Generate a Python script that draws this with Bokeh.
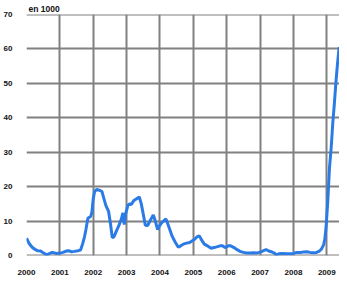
from bokeh.plotting import figure
from bokeh.models import Range1d, FixedTicker
from bokeh.embed import file_html
from bokeh.resources import INLINE

years = [2000.00, 2000.08, 2000.17, 2000.25, 2000.33, 2000.42, 2000.50, 2000.60, 2000.70, 2000.77,
         2000.90, 2001.00, 2001.09, 2001.20, 2001.25, 2001.35, 2001.43, 2001.55, 2001.62, 2001.68,
         2001.74, 2001.78, 2001.84, 2001.92, 2001.96, 2002.00, 2002.04, 2002.10, 2002.18, 2002.26,
         2002.32, 2002.38, 2002.46, 2002.52, 2002.57, 2002.62, 2002.68, 2002.76, 2002.84, 2002.89,
         2002.93, 2002.97, 2003.04, 2003.10, 2003.14, 2003.22, 2003.30, 2003.38, 2003.44, 2003.50,
         2003.56, 2003.63, 2003.72, 2003.80, 2003.86, 2003.93, 2003.98, 2004.06, 2004.18, 2004.26,
         2004.36, 2004.45, 2004.55, 2004.62, 2004.70, 2004.80, 2004.89, 2004.97, 2005.04, 2005.12,
         2005.18, 2005.26, 2005.33, 2005.42, 2005.53, 2005.62, 2005.70, 2005.80, 2005.87, 2005.95,
         2006.05, 2006.12, 2006.22, 2006.31, 2006.40, 2006.50, 2006.60, 2006.70, 2006.80, 2006.89,
         2006.97, 2007.04, 2007.12, 2007.18, 2007.26, 2007.33, 2007.43, 2007.48, 2007.56, 2007.66,
         2007.80, 2007.91, 2008.00, 2008.10, 2008.20, 2008.30, 2008.40, 2008.50, 2008.60, 2008.69,
         2008.78, 2008.84, 2008.90, 2008.94, 2008.98, 2009.03, 2009.08, 2009.13, 2009.18, 2009.22,
         2009.27, 2009.32, 2009.37]
values = [5.0, 3.5, 2.4, 1.8, 1.4, 1.3, 0.8, 0.2, 0.6, 0.9,
          0.6, 0.7, 0.9, 1.3, 1.4, 1.1, 1.2, 1.4, 1.6, 3.3,
          5.5, 7.5, 10.8, 11.3, 12.5, 16.5, 18.5, 19.2, 19.0, 18.6,
          16.5, 14.5, 12.8, 9.0, 5.2, 5.4, 6.8, 8.5, 10.5, 12.4,
          9.0, 12.0, 14.6, 15.0, 14.8, 16.0, 16.5, 17.0, 15.0, 12.0,
          8.8, 8.7, 10.4, 11.8, 10.0, 7.5, 8.5, 9.6, 10.6, 8.5,
          5.7, 4.0, 2.4, 2.8, 3.3, 3.6, 3.8, 4.3, 4.7, 5.5,
          5.7, 4.3, 3.3, 2.8, 2.1, 2.3, 2.5, 2.8, 2.8, 2.3,
          2.8, 2.8, 2.3, 1.7, 1.2, 0.9, 0.7, 0.7, 0.8, 0.7,
          0.9, 1.1, 1.5, 1.7, 1.3, 1.1, 0.7, 0.2, 0.5, 0.6,
          0.5, 0.5, 0.6, 0.9, 0.9, 1.0, 1.1, 0.9, 0.8, 0.9,
          1.3, 1.9, 3.0, 4.7, 8.5, 16.0, 25.5, 31.2, 38.7, 43.4,
          50.0, 55.7, 60.5]

tick_years = list(range(2000, 2010))
tick_values = list(range(0, 80, 10))
unit_label = "en 1000"

grid_color = "#808080"

p = figure(width=339, height=277, output_backend="svg", toolbar_location=None,
           x_range=Range1d(2000, 2009.38), y_range=Range1d(0, 70),
           min_border_left=18, min_border_right=0, min_border_top=4, min_border_bottom=22,
           title=unit_label)
p.outline_line_color = None
p.background_fill_color = "white"
p.border_fill_color = "white"

p.title.align = "left"
p.title.offset = 2
p.title.standoff = 2
p.title.text_font = "Liberation Sans"
p.title.text_font_size = "8.5px"
p.title.text_font_style = "bold"
p.title.text_color = "#111111"

p.xaxis.ticker = FixedTicker(ticks=tick_years)
p.yaxis.ticker = FixedTicker(ticks=tick_values)
for ax in [p.xaxis, p.yaxis]:
    ax.axis_line_color = None
    ax.major_tick_line_color = None
    ax.minor_tick_line_color = None
    ax.major_label_text_font = "Liberation Sans"
    ax.major_label_text_font_style = "bold"
    ax.major_label_text_font_size = "8px"
    ax.major_label_text_color = "#111111"
p.xaxis.major_label_standoff = 8
p.yaxis.major_label_standoff = 8

p.xgrid.grid_line_color = grid_color
p.xgrid.grid_line_width = 2
p.ygrid.grid_line_color = None

# horizontal grid lines drawn at the y tick values
p.hspan(y=tick_values, line_color=grid_color, line_width=2, level="underlay")

p.line(years, values, line_color="#2b7be6", line_width=3)

open("out.html", "w").write(file_html(p, INLINE))
